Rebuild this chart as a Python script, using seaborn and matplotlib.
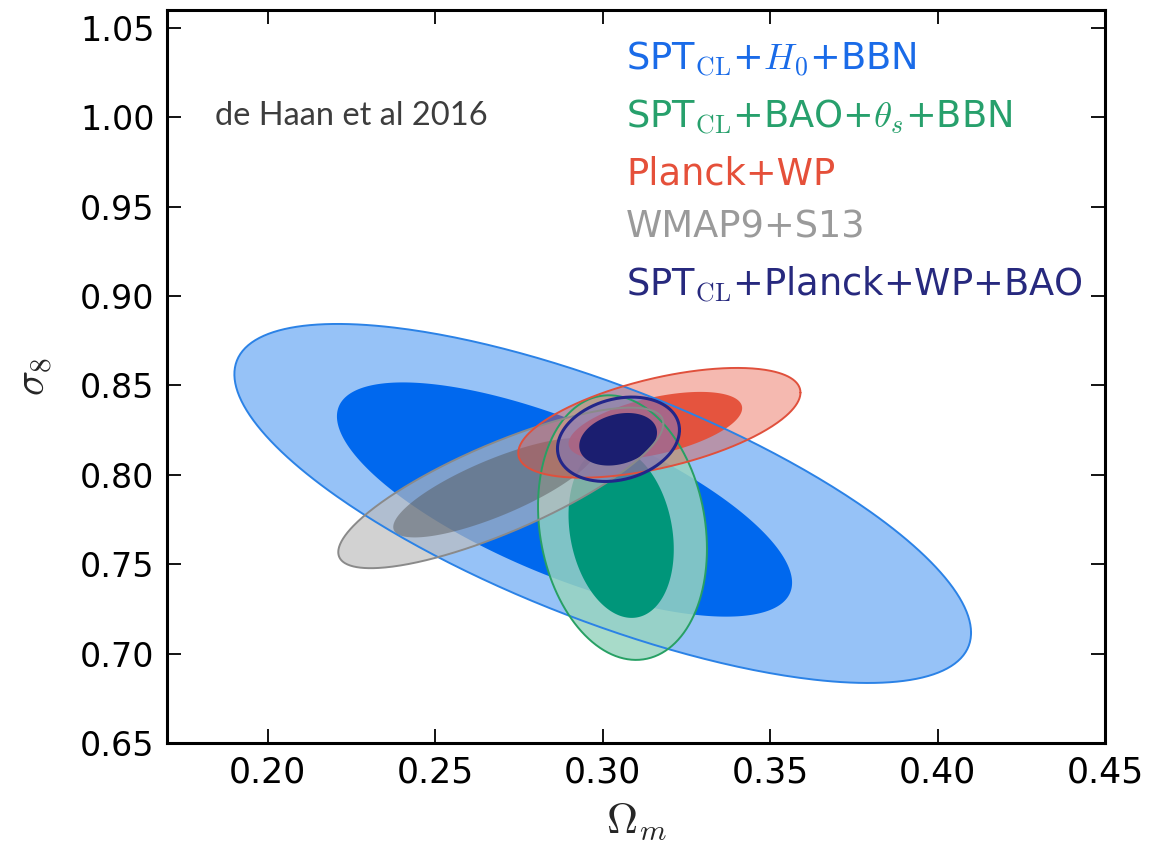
import numpy as np
import pandas as pd
import matplotlib
matplotlib.use("Agg")
import matplotlib.pyplot as plt
import seaborn as sns

# Data sets shown (legend order)
labels = [
    r"SPT$_{\rm CL}$+$H_0$+BBN",
    r"SPT$_{\rm CL}$+BAO+$\theta_s$+BBN",
    "Planck+WP",
    "WMAP9+S13",
    r"SPT$_{\rm CL}$+Planck+WP+BAO",
]

# 95% confidence region: centre, half-extent in each parameter, correlation
om_c95 = [0.3000, 0.3059, 0.3169, 0.2696, 0.3047]
s8_c95 = [0.7840, 0.7705, 0.8291, 0.7927, 0.8199]
om_w95 = [0.1099, 0.0252, 0.0421, 0.0485, 0.0182]
s8_w95 = [0.1004, 0.0740, 0.0307, 0.0449, 0.0236]
rho95 = [-0.72, -0.16, 0.55, 0.80, 0.22]

# 68% confidence region
om_c68 = [0.2886, 0.3055, 0.3157, 0.2679, 0.3046]
s8_c68 = [0.7862, 0.7680, 0.8274, 0.7928, 0.8199]
om_w68 = [0.0679, 0.0157, 0.0259, 0.0304, 0.0116]
s8_w68 = [0.0655, 0.0480, 0.0190, 0.0278, 0.0147]
rho68 = [-0.71, -0.20, 0.52, 0.79, 0.25]

x_ticks = [0.20, 0.25, 0.30, 0.35, 0.40, 0.45]
y_ticks = [0.65, 0.70, 0.75, 0.80, 0.85, 0.90, 0.95, 1.00, 1.05]

# styling per data set: (outer fill, outer alpha, inner fill, inner alpha, edge, edge width)
styles = [
    ("#96c2f7", 1.00, "#0068ee", 1.00, "#2b82e6", 1.4),
    ("#98d5bf", 0.84, "#00967a", 1.00, "#27a064", 1.4),
    ("#e8503a", 0.40, "#e54f38", 0.95, "#e0503c", 1.4),
    ("#bdbdbd", 0.67, "#525252", 0.46, "#8a8a8a", 1.4),
    ("#7a78c4", 0.55, "#1b1e70", 1.00, "#22268a", 2.2),
]
text_colors = ["#1a6be8", "#27a06c", "#e5503a", "#9a9a9a", "#27297e"]
draw_order = [0, 1, 3, 2, 4]

sns.set_theme(style="ticks")
plt.rcParams["font.family"] = ["DejaVu Sans"]
plt.rcParams["mathtext.fontset"] = "cm"


def ellipse(cx, cy, wx, wy, r, n=400):
    t = np.linspace(0, 2 * np.pi, n)
    x = cx + wx * np.cos(t)
    y = cy + wy * (r * np.cos(t) + np.sqrt(1 - r * r) * np.sin(t))
    return pd.DataFrame({"om": x, "s8": y})


fig = plt.figure(figsize=(11.55, 8.61), dpi=100)
ax = fig.add_axes([0.1446, 0.1370, 0.8125, 0.8514])

z = 1
for i in draw_order:
    fo, ao, fi, ai, ec, lw = styles[i]
    outer = ellipse(om_c95[i], s8_c95[i], om_w95[i], s8_w95[i], rho95[i])
    inner = ellipse(om_c68[i], s8_c68[i], om_w68[i], s8_w68[i], rho68[i])
    ax.fill(outer["om"], outer["s8"], color=fo, alpha=ao, lw=0, zorder=z)
    ax.fill(inner["om"], inner["s8"], color=fi, alpha=ai, lw=0, zorder=z + 1)
    sns.lineplot(data=outer, x="om", y="s8", sort=False, estimator=None,
                 color=ec, lw=lw, ax=ax, zorder=20 + z)
    z += 2

ax.set_xlim(0.17, 0.45)
ax.set_ylim(0.65, 1.06)
ax.set_xticks(x_ticks)
ax.set_yticks(y_ticks)
ax.set_xticklabels([f"{v:.2f}" for v in x_ticks])
ax.set_yticklabels([f"{v:.2f}" for v in y_ticks])
ax.tick_params(direction="in", length=10, width=1.3, top=True, right=True,
               labelsize=24, pad=9, colors="black")
ax.tick_params(axis="x", labelsize=25)
for s in ax.spines.values():
    s.set_linewidth(2.2)
    s.set_color("black")
    s.set_visible(True)

ax.set_xlabel(r"$\Omega_m$", fontsize=31, labelpad=8)
ax.set_ylabel(r"$\sigma_8$", fontsize=30, labelpad=18)

# legend entries as coloured text
legend_y = [0.9172, 0.8390, 0.7613, 0.6890, 0.6089]
for lab, col, yy in zip(labels, text_colors, legend_y):
    ax.text(0.489, yy, lab, transform=ax.transAxes, color=col, fontsize=26.5,
            va="baseline", ha="left", zorder=50)

ax.text(0.0511, 0.843, "de Haan et al 2016", transform=ax.transAxes,
        family=["Lato", "DejaVu Sans"], fontsize=23.5, color="#3d3d3d",
        va="baseline", ha="left", zorder=50)

fig.savefig("out.png", dpi=100)
